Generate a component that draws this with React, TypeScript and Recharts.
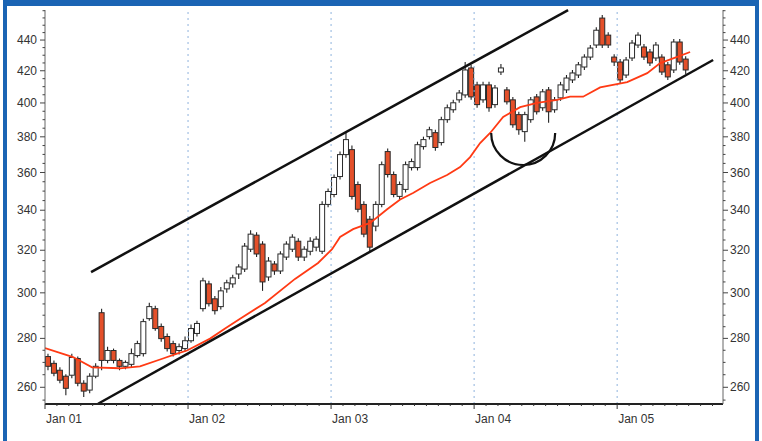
import React from "react";
import {
  ComposedChart,
  Bar,
  Line,
  XAxis,
  YAxis,
  ReferenceLine,
  ReferenceDot,
} from "recharts";

// semi-monthly candles, Jan 2001 .. mid 2005
const opens = [
  272.4, 269.6, 266.8, 264.4, 264.8, 271.6, 261.6, 258.9, 264.4, 291.1,
  270.8, 274.9, 270.8, 268.4, 269.2, 272.8, 273.6, 288.5, 292.9, 285.1,
  280.8, 277.8, 274.9, 275.7, 279.0, 282.1, 292.9, 304.1, 297.3, 293.8,
  301.8, 304.1, 308.7, 311.0, 320.5, 327.4, 323.0, 307.3, 313.4, 310.1,
  316.7, 320.5, 324.4, 316.7, 319.5, 321.5, 319.5, 343.0, 348.2, 357.8,
  369.9, 372.7, 353.5, 343.0, 335.4, 331.9, 343.0, 371.6, 358.9, 347.2,
  350.9, 362.7, 362.7, 374.4, 380.1, 382.4, 376.7, 390.0, 395.9, 401.9,
  404.9, 421.8, 411.1, 401.9, 411.1, 399.0, 419.2, 408.0, 401.9, 393.0,
  383.0, 390.0, 403.7, 397.1, 408.0, 395.9, 403.1, 408.0, 414.2, 417.3,
  422.4, 428.8, 436.7, 454.9, 443.3, 428.8, 425.6, 417.3, 428.2, 436.7,
  435.4, 432.1, 428.2, 428.8, 423.8, 420.5, 438.7, 427.5,
];
const highs = [
  273.6, 270.8, 268.0, 265.2, 273.6, 272.4, 262.8, 265.6, 269.6, 292.9,
  276.5, 275.7, 271.6, 270.8, 275.7, 279.0, 288.5, 295.5, 294.2, 286.4,
  282.1, 279.0, 277.8, 280.8, 286.0, 287.6, 306.9, 305.5, 298.6, 302.7,
  306.0, 308.3, 313.3, 323.5, 329.9, 328.9, 324.4, 316.7, 314.8, 319.5,
  324.4, 327.9, 325.9, 322.0, 326.4, 326.9, 344.6, 351.4, 358.9, 371.6,
  382.4, 375.0, 355.1, 344.6, 337.0, 344.6, 366.0, 373.3, 360.5, 355.1,
  366.0, 367.7, 377.2, 380.1, 385.9, 384.1, 391.8, 399.0, 401.9, 408.0,
  425.6, 423.8, 413.0, 413.0, 413.0, 411.1, 424.3, 409.8, 403.7, 394.7,
  394.7, 403.7, 405.5, 408.6, 409.8, 403.7, 413.0, 417.3, 420.5, 425.6,
  430.7, 436.7, 448.6, 457.0, 445.3, 430.7, 427.5, 428.8, 440.0, 445.3,
  437.4, 434.1, 438.7, 430.7, 425.6, 440.7, 440.7, 429.4,
];
const lows = [
  266.8, 264.4, 261.6, 256.9, 263.6, 260.4, 256.2, 257.7, 263.6, 266.8,
  269.6, 269.6, 266.8, 267.2, 268.0, 272.0, 272.4, 287.6, 283.3, 278.6,
  274.5, 272.4, 273.2, 274.5, 278.2, 280.8, 291.6, 293.8, 290.3, 292.5,
  300.0, 302.3, 306.4, 309.6, 319.1, 316.7, 300.9, 305.5, 308.3, 308.7,
  315.3, 319.1, 314.8, 314.8, 317.6, 319.5, 318.2, 341.5, 346.7, 356.2,
  368.2, 345.6, 339.0, 326.4, 319.5, 329.4, 341.5, 357.3, 346.7, 345.6,
  349.3, 361.1, 361.1, 372.7, 378.4, 372.1, 375.0, 388.2, 394.1, 400.1,
  403.1, 401.9, 397.1, 400.1, 394.7, 397.1, 417.3, 399.0, 385.3, 381.2,
  377.2, 388.2, 393.0, 395.3, 388.2, 394.1, 401.3, 406.1, 412.3, 415.4,
  420.5, 426.9, 434.7, 434.7, 434.7, 423.1, 412.3, 415.4, 426.3, 434.7,
  426.9, 423.1, 426.3, 417.3, 414.2, 418.6, 423.8, 418.0,
];
const closes = [
  268.4, 265.6, 262.8, 259.6, 272.0, 261.6, 258.5, 264.4, 268.4, 270.8,
  274.9, 270.8, 268.4, 270.0, 273.6, 277.8, 287.2, 293.8, 284.2, 279.9,
  275.7, 273.6, 276.5, 279.0, 284.2, 286.4, 305.5, 295.1, 292.0, 300.9,
  304.6, 306.9, 312.0, 322.0, 327.9, 318.2, 305.0, 314.8, 310.1, 318.2,
  323.0, 326.4, 316.7, 320.5, 324.4, 325.4, 343.0, 349.8, 357.3, 369.9,
  378.4, 347.2, 340.5, 327.9, 321.5, 343.0, 364.3, 358.9, 348.2, 353.5,
  364.3, 366.0, 375.5, 378.4, 384.1, 373.9, 390.0, 397.1, 400.1, 406.1,
  420.5, 403.7, 399.0, 411.1, 397.1, 409.2, 421.8, 400.7, 387.0, 384.1,
  393.0, 401.9, 394.7, 406.8, 394.7, 401.9, 411.1, 415.4, 418.6, 423.8,
  428.8, 434.7, 446.6, 436.7, 436.7, 425.6, 414.2, 426.9, 438.0, 443.3,
  428.8, 425.0, 436.7, 419.2, 416.1, 438.7, 425.6, 420.5,
];

// moving average (years since Jan 2001, value)
const maT = [
  0, 0.196, 0.329, 0.524, 0.664, 0.825, 0.923, 0.993, 1.154, 1.259, 1.364,
  1.538, 1.748, 1.909, 2.007, 2.063, 2.154, 2.273, 2.392, 2.483, 2.573, 2.692,
  2.811, 2.902, 2.972, 3.042, 3.112, 3.203, 3.322, 3.441, 3.58, 3.671, 3.762,
  3.881, 4.07, 4.21, 4.301, 4.42, 4.51,
];
const maV = [
  275.9, 272.2, 268.0, 267.6, 268.4, 271.6, 273.6, 274.9, 279.9, 284.2, 288.5,
  295.4, 306.4, 313.9, 320.5, 326.5, 330.4, 333.5, 340.5, 345.6, 349.0, 354.3,
  358.6, 363.0, 368.5, 376.4, 382.2, 391.6, 397.5, 400.0, 401.9, 403.8, 403.8,
  409.5, 412.9, 418.5, 424.9, 428.9, 432.1,
];

const yearTicks = [0, 1, 2, 3, 4];
const yearLabels = ["Jan 01", "Jan 02", "Jan 03", "Jan 04", "Jan 05"];
const yLabels = [260, 280, 300, 320, 340, 360, 380, 400, 420, 440];

// trend channel and the rounded bottom
const upperChannel = [
  { x: 0.322, y: 309.6 },
  { x: 3.657, y: 460.4 },
];
const lowerChannel = [
  { x: 0.371, y: 253.6 },
  { x: 4.671, y: 426.9 },
];
const bowl = { x: 3.343, y: 382.2 };

const Y_MIN = 253.5;
const Y_MAX = 460.5;
const X_MAX = 4.74;
const BODY_W = 5;

const rows = closes.map((c, i) => ({
  t: (i + 0.5) / 24,
  range: [lows[i], highs[i]],
  o: opens[i],
  h: highs[i],
  l: lows[i],
  c,
}));
const maRows = maT.map((t, i) => ({ t, ma: maV[i] }));

const minorY: number[] = [];
for (let v = 255; v <= 460; v += 5) minorY.push(v);
const minorX: number[] = [];
for (let m = 0; m <= X_MAX * 12; m++) minorX.push(m / 12);

const font = "'Liberation Sans', Arial, sans-serif";

function Candle(props: any) {
  const { x, y, width, height, payload } = props;
  if (!payload) return null;
  const top = Math.min(y, y + height);
  const bot = Math.max(y, y + height);
  const { o, h, l, c } = payload;
  const k = (bot - top) / (Math.log(h) - Math.log(l));
  const py = (v: number) => top + (Math.log(h) - Math.log(v)) * k;
  const cx = x + (width || 0) / 2;
  const yo = py(o);
  const yc = py(c);
  const up = c >= o;
  return (
    <g>
      <line x1={cx} x2={cx} y1={top} y2={bot} stroke="#222" strokeWidth={1.1} />
      <rect
        x={cx - BODY_W / 2}
        y={Math.min(yo, yc)}
        width={BODY_W}
        height={Math.max(1.5, Math.abs(yc - yo))}
        fill={up ? "#fff" : "#e4502a"}
        stroke="#2a2a2a"
        strokeWidth={1}
      />
    </g>
  );
}

function LeftTick({ x, y, payload }: any) {
  const major = yLabels.includes(payload.value);
  return (
    <g>
      <line x1={x} x2={x - (major ? 5 : 2.5)} y1={y} y2={y} stroke="#444" />
      {major && (
        <text x={x - 8} y={y + 4} textAnchor="end" fontSize={12} fill="#333" fontFamily={font}>
          {payload.value}
        </text>
      )}
    </g>
  );
}

function RightTick({ x, y, payload }: any) {
  const major = yLabels.includes(payload.value);
  return (
    <g>
      <line x1={x} x2={x + (major ? 5 : 2.5)} y1={y} y2={y} stroke="#444" />
      {major && (
        <text x={x + 7} y={y + 4} textAnchor="start" fontSize={12} fill="#333" fontFamily={font}>
          {payload.value}
        </text>
      )}
    </g>
  );
}

function BottomTick({ x, y, payload }: any) {
  const v = payload.value;
  const yi = yearTicks.findIndex((t) => Math.abs(t - v) < 1e-6);
  return (
    <g>
      <line x1={x} x2={x} y1={y} y2={y + (yi >= 0 ? 5 : 2)} stroke="#333" />
      {yi >= 0 && (
        <text x={x + 1} y={y + 19} textAnchor="start" fontSize={12} fill="#333" fontFamily={font}>
          {yearLabels[yi]}
        </text>
      )}
    </g>
  );
}

function Bowl(props: any) {
  const { cx, cy } = props;
  const r = 32;
  return (
    <path
      d={`M ${cx - r} ${cy} A ${r} ${r} 0 0 0 ${cx + r} ${cy}`}
      fill="none"
      stroke="#111"
      strokeWidth={2.2}
    />
  );
}

export default function App() {
  const blue = "#1a64b4";
  return (
    <div style={{ position: "absolute", left: 0, top: 0, width: 762, height: 441, background: "#fff" }}>
      <div style={{ position: "absolute", left: 3, top: 0, width: 4, height: 441, background: blue }} />
      <div style={{ position: "absolute", left: 755, top: 0, width: 4, height: 441, background: blue }} />
      <div style={{ position: "absolute", left: 3, top: 0, width: 756, height: 6, background: blue }} />
      <div style={{ position: "absolute", left: 0, top: 0 }}>
        <ComposedChart
          width={762}
          height={441}
          data={rows}
          margin={{ top: 10, right: 6, bottom: 7, left: 7 }}
        >
          <XAxis
            dataKey="t"
            type="number"
            domain={[0, X_MAX]}
            ticks={minorX}
            tick={<BottomTick />}
            tickSize={0}
            tickMargin={0}
            tickLine={false}
            interval={0}
            height={30}
            axisLine={{ stroke: "#222", strokeWidth: 2 }}
            allowDataOverflow
          />
          <XAxis
            xAxisId="top"
            orientation="top"
            type="number"
            domain={[0, X_MAX]}
            tick={false}
            tickLine={false}
            height={0}
            axisLine={{ stroke: "#999", strokeWidth: 1.5 }}
          />
          <YAxis
            yAxisId="left"
            scale="log"
            type="number"
            domain={[Y_MIN, Y_MAX]}
            allowDataOverflow
            ticks={minorY}
            interval={0}
            tick={<LeftTick />}
            tickSize={0}
            tickMargin={0}
            tickLine={false}
            width={38}
            axisLine={{ stroke: "#666" }}
          />
          <YAxis
            yAxisId="right"
            orientation="right"
            scale="log"
            type="number"
            domain={[Y_MIN, Y_MAX]}
            allowDataOverflow
            ticks={minorY}
            interval={0}
            tick={<RightTick />}
            tickSize={0}
            tickMargin={0}
            tickLine={false}
            width={33}
            axisLine={{ stroke: "#666" }}
          />
          {yearTicks.slice(1).map((t) => (
            <ReferenceLine
              key={t}
              x={t}
              yAxisId="left"
              stroke="#8fb3dd"
              strokeDasharray="2 4"
            />
          ))}
          <Line
            data={maRows}
            dataKey="ma"
            yAxisId="left"
            stroke="#ff3a14"
            strokeWidth={1.8}
            dot={false}
            isAnimationActive={false}
          />
          <Bar
            dataKey="range"
            yAxisId="left"
            barSize={4}
            shape={<Candle />}
            isAnimationActive={false}
          />
          <ReferenceLine
            yAxisId="left"
            segment={upperChannel}
            stroke="#111"
            strokeWidth={2.5}
            ifOverflow="visible"
          />
          <ReferenceLine
            yAxisId="left"
            segment={lowerChannel}
            stroke="#111"
            strokeWidth={2.5}
            ifOverflow="visible"
          />
          <ReferenceDot
            yAxisId="left"
            x={bowl.x}
            y={bowl.y}
            r={32}
            shape={<Bowl />}
            ifOverflow="visible"
          />
        </ComposedChart>
      </div>
    </div>
  );
}
